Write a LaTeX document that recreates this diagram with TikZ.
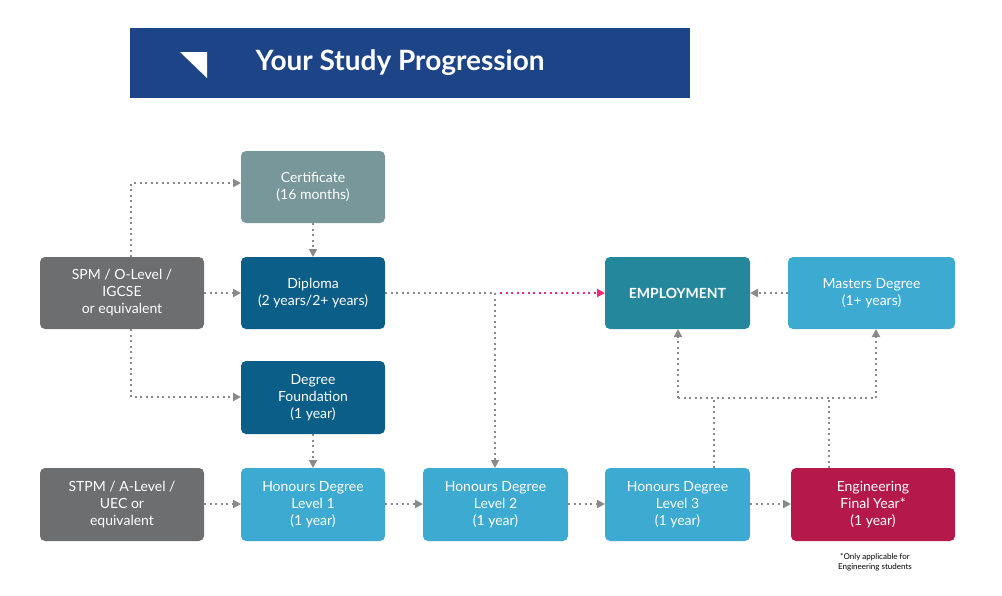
\documentclass[tikz,border=0pt]{standalone}
\usepackage{fontspec}
\setmainfont{Lato}
\usetikzlibrary{arrows.meta}
\definecolor{cgray}{HTML}{6D6E70}
\definecolor{ccert}{HTML}{77979B}
\definecolor{cdark}{HTML}{0A5E87}
\definecolor{clight}{HTML}{3DAAD2}
\definecolor{cemp}{HTML}{25879B}
\definecolor{ceng}{HTML}{B5194B}
\definecolor{ctitle}{HTML}{1E4488}
\definecolor{cline}{HTML}{8A8A8A}
\definecolor{cpink}{HTML}{EE2A7B}
\begin{document}
\begin{tikzpicture}[x=1pt,y=-1pt,
  box/.style={rounded corners=5pt,text=white,align=center,font=\fontsize{14}{17}\selectfont,inner sep=0pt},
  con/.style={draw=cline,line width=2pt,dash pattern=on 2pt off 3.5pt,-{Triangle[length=8pt,width=8pt,fill=cline]}},
  conn/.style={draw=cline,line width=2pt,dash pattern=on 2pt off 3.5pt}]
\useasboundingbox (0,0) rectangle (1002,595);
\fill[ctitle] (130,28) rectangle (690,98);
\fill[white] (180,52) -- (207,52) -- (207,78) -- cycle;
\node[text=white,font=\fontsize{28}{32}\selectfont\bfseries,anchor=west] (title) at (252,63) {Your Study Progression};
\newcommand\bx[7]{\fill[#6,rounded corners=5pt] (#1,#2) rectangle (#3,#4); \node[box] (#5) at ({(#1+#3)/2},{(#2+#4)/2}) {#7};
 \path (#1,#2) coordinate (#5-nw) (#3,#4) coordinate (#5-se);}
\bx{40}{257}{204}{329}{spm}{cgray}{SPM / O-Level /\\IGCSE\\or equivalent}
\bx{241}{151}{385}{223}{cert}{ccert}{Certificate\\(16 months)}
\bx{241}{257}{385}{329}{dip}{cdark}{Diploma\\(2 years/2+ years)}
\bx{241}{361}{385}{434}{fnd}{cdark}{Degree\\Foundation\\(1 year)}
\bx{40}{468}{204}{541}{stpm}{cgray}{STPM / A-Level /\\UEC or\\equivalent}
\bx{241}{468}{385}{541}{h1}{clight}{Honours Degree\\Level 1\\(1 year)}
\bx{423}{468}{568}{541}{h2}{clight}{Honours Degree\\Level 2\\(1 year)}
\bx{605}{468}{750}{541}{h3}{clight}{Honours Degree\\Level 3\\(1 year)}
\bx{791}{468}{955}{541}{eng}{ceng}{Engineering\\Final Year*\\(1 year)}
\bx{605}{257}{750}{329}{emp}{cemp}{\bfseries EMPLOYMENT}
\bx{788}{257}{955}{329}{mas}{clight}{Masters Degree\\(1+ years)}
\node[font=\fontsize{8}{9.5}\selectfont,align=center] (note) at (875,562) {*Only applicable for\\Engineering students};
% connectors
\coordinate (c1) at (131,257); \coordinate (c1b) at (131,183); \coordinate (c1e) at (241,183);
\draw[con] (c1) -- (c1b) -- (c1e);
\coordinate (c2) at (131,329); \coordinate (c2b) at (131,397); \coordinate (c2e) at (241,397);
\draw[con] (c2) -- (c2b) -- (c2e);
\draw[con] (204,293) -- (241,293);
\draw[con] (313,223) -- (313,257);
\draw[con] (313,434) -- (313,468);
\draw[con] (204,504) -- (241,504);
\draw[con] (385,504) -- (423,504);
\draw[con] (568,504) -- (605,504);
\draw[con] (750,504) -- (791,504);
\coordinate (j) at (495,293);
\draw[conn] (385,293) -- (j);
\draw[con] (j) -- (495,468);
\draw[con,draw=cpink,-{Triangle[length=8pt,width=8pt,fill=cpink]}] (500,293) -- (605,293);
\draw[con] (788,293) -- (750,293);
\draw[conn] (714,468) -- (714,398);
\draw[conn] (829,468) -- (829,398);
\draw[conn] (678,398) -- (876,398);
\draw[con] (678,398) -- (678,329);
\draw[con] (876,398) -- (876,329);
\end{tikzpicture}
\end{document}
